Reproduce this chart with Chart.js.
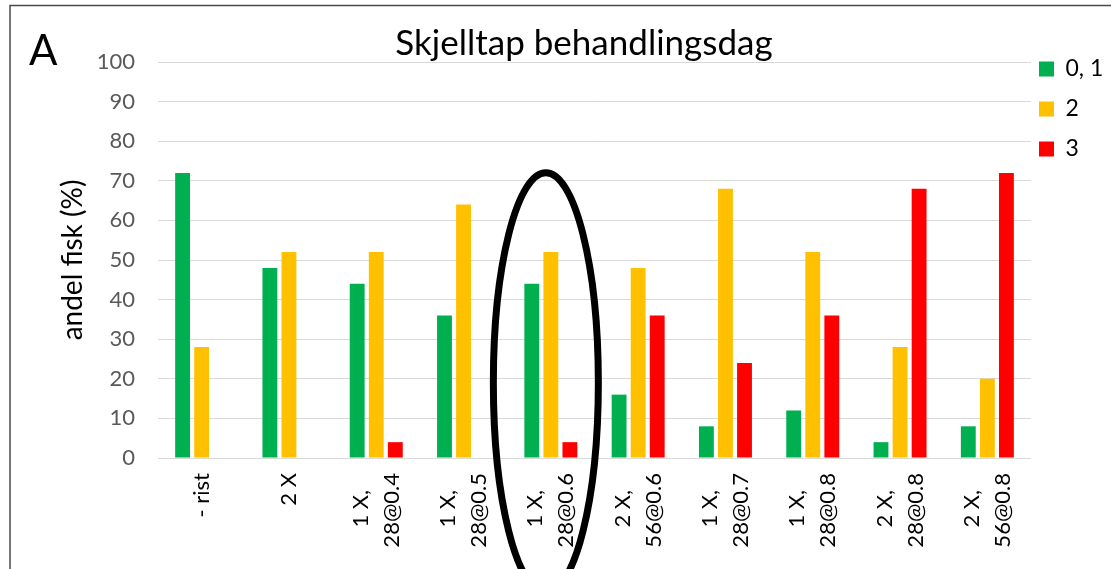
<!DOCTYPE html>
<html>
<head>
<meta charset="utf-8">
<script src="https://cdn.jsdelivr.net/npm/chart.js@4"></script>
<style>
  html, body { margin: 0; padding: 0; background: #ffffff; }
  #wrap { width: 1111px; height: 569px; }
</style>
</head>
<body>
<div id="wrap"><canvas id="c" width="1111" height="569"></canvas></div>
<script>
// ---- data ----
const categories = [
  "- rist",
  "2 X",
  ["1 X,", "28@0.4"],
  ["1 X,", "28@0.5"],
  ["1 X,", "28@0.6"],
  ["2 X,", "56@0.6"],
  ["1 X,", "28@0.7"],
  ["1 X,", "28@0.8"],
  ["2 X,", "28@0.8"],
  ["2 X,", "56@0.8"]
];
const seriesNames = ["0, 1", "2", "3"];
const score01 = [72, 48, 44, 36, 44, 16, 8, 12, 4, 8];
const score2  = [28, 52, 52, 64, 52, 48, 68, 52, 28, 20];
const score3  = [0, 0, 4, 0, 4, 36, 24, 36, 68, 72];
const yMin = 0, yMax = 100, yStep = 10;
const chartTitle = "Skjelltap behandlingsdag";
const panelLabel = "A";
const yAxisTitle = "andel fisk (%)";
const highlightIndex = 4;

// ---- styling ----
const FONT = "Lato";
const colors = ["#00B050", "#FFC000", "#FF0000"];
const X_SIZE = 22, X_LH = 31;

const measureCtx = document.createElement("canvas").getContext("2d");
measureCtx.font = X_SIZE + "px " + FONT;
function centerLines(lbl) {
  if (!Array.isArray(lbl)) return ["", lbl];
  const widths = lbl.map(s => measureCtx.measureText(s).width);
  const maxW = Math.max(...widths);
  const sp = measureCtx.measureText(" ").width;
  return lbl.map((s, i) => {
    const n = Math.round((maxW - widths[i]) / 2 / sp);
    return s + " ".repeat(Math.max(0, n));
  });
}

const decor = {
  id: "decor",
  afterDraw(chart) {
    const ctx = chart.ctx;
    ctx.save();
    // outer frame
    ctx.strokeStyle = "#4a4a4a";
    ctx.lineWidth = 1.5;
    ctx.strokeRect(10, 5.5, 1400, 900);
    // panel label
    ctx.fillStyle = "#000";
    ctx.textBaseline = "alphabetic";
    ctx.textAlign = "left";
    ctx.font = "42px " + FONT;
    ctx.fillText(panelLabel, 29, 65);
    // chart title
    ctx.textAlign = "center";
    ctx.font = "35px " + FONT;
    ctx.fillText(chartTitle, 584, 55);
    // highlight ellipse around one category
    const xs = chart.scales.x, ys = chart.scales.y;
    const cx = xs.getPixelForValue(highlightIndex) - 5;
    const cy = ys.getPixelForValue(19);
    ctx.beginPath();
    ctx.ellipse(cx, cy, 52.5, 210, 0, 0, Math.PI * 2);
    ctx.lineWidth = 7;
    ctx.strokeStyle = "#000";
    ctx.stroke();
    ctx.restore();
  }
};

new Chart(document.getElementById("c"), {
  type: "bar",
  data: {
    labels: categories,
    datasets: seriesNames.map((name, i) => ({
      label: name,
      data: [score01, score2, score3][i],
      backgroundColor: colors[i],
      borderWidth: 0,
      categoryPercentage: 0.655,
      barPercentage: 0.78
    }))
  },
  options: {
    responsive: false,
    animation: false,
    layout: { padding: { top: 49.5, left: 10, right: 0, bottom: 0 } },
    plugins: {
      title: { display: false },
      tooltip: { enabled: false },
      legend: {
        position: "right",
        align: "start",
        maxWidth: 80,
        labels: {
          boxWidth: 15,
          boxHeight: 15,
          padding: 8,
          color: "#000",
          font: { family: FONT, size: 23, lineHeight: "32px" },
          generateLabels(chart) {
            return Chart.defaults.plugins.legend.labels.generateLabels(chart)
              .map(l => Object.assign(l, { text: [l.text] }));
          }
        }
      }
    },
    scales: {
      x: {
        grid: { display: false, drawTicks: false },
        border: { display: false },
        ticks: {
          autoSkip: false,
          maxRotation: 90,
          minRotation: 90,
          padding: 15,
          labelOffset: -X_LH / 2,
          color: "#000",
          font: (c) => ({
            family: FONT,
            size: X_SIZE,
            lineHeight: (Array.isArray(categories[c.index]) ? X_LH : X_LH / 2) + "px"
          }),
          callback: (v, i) => centerLines(categories[i])
        },
        afterFit(scale) { scale.height = 111; }
      },
      y: {
        min: yMin,
        max: yMax,
        grid: { color: "#D9D9D9", lineWidth: 1, drawTicks: false },
        border: { display: false },
        ticks: {
          stepSize: yStep,
          padding: 23,
          color: "#595959",
          font: { family: FONT, size: 22 }
        },
        title: {
          display: true,
          text: yAxisTitle,
          color: "#000",
          font: { family: FONT, size: 28 },
          padding: { top: 46, bottom: 0 }
        },
        afterFit(scale) {
          scale.width = 148;
          scale.paddingTop = 62;
        }
      }
    }
  },
  plugins: [decor]
});
</script>
</body>
</html>
